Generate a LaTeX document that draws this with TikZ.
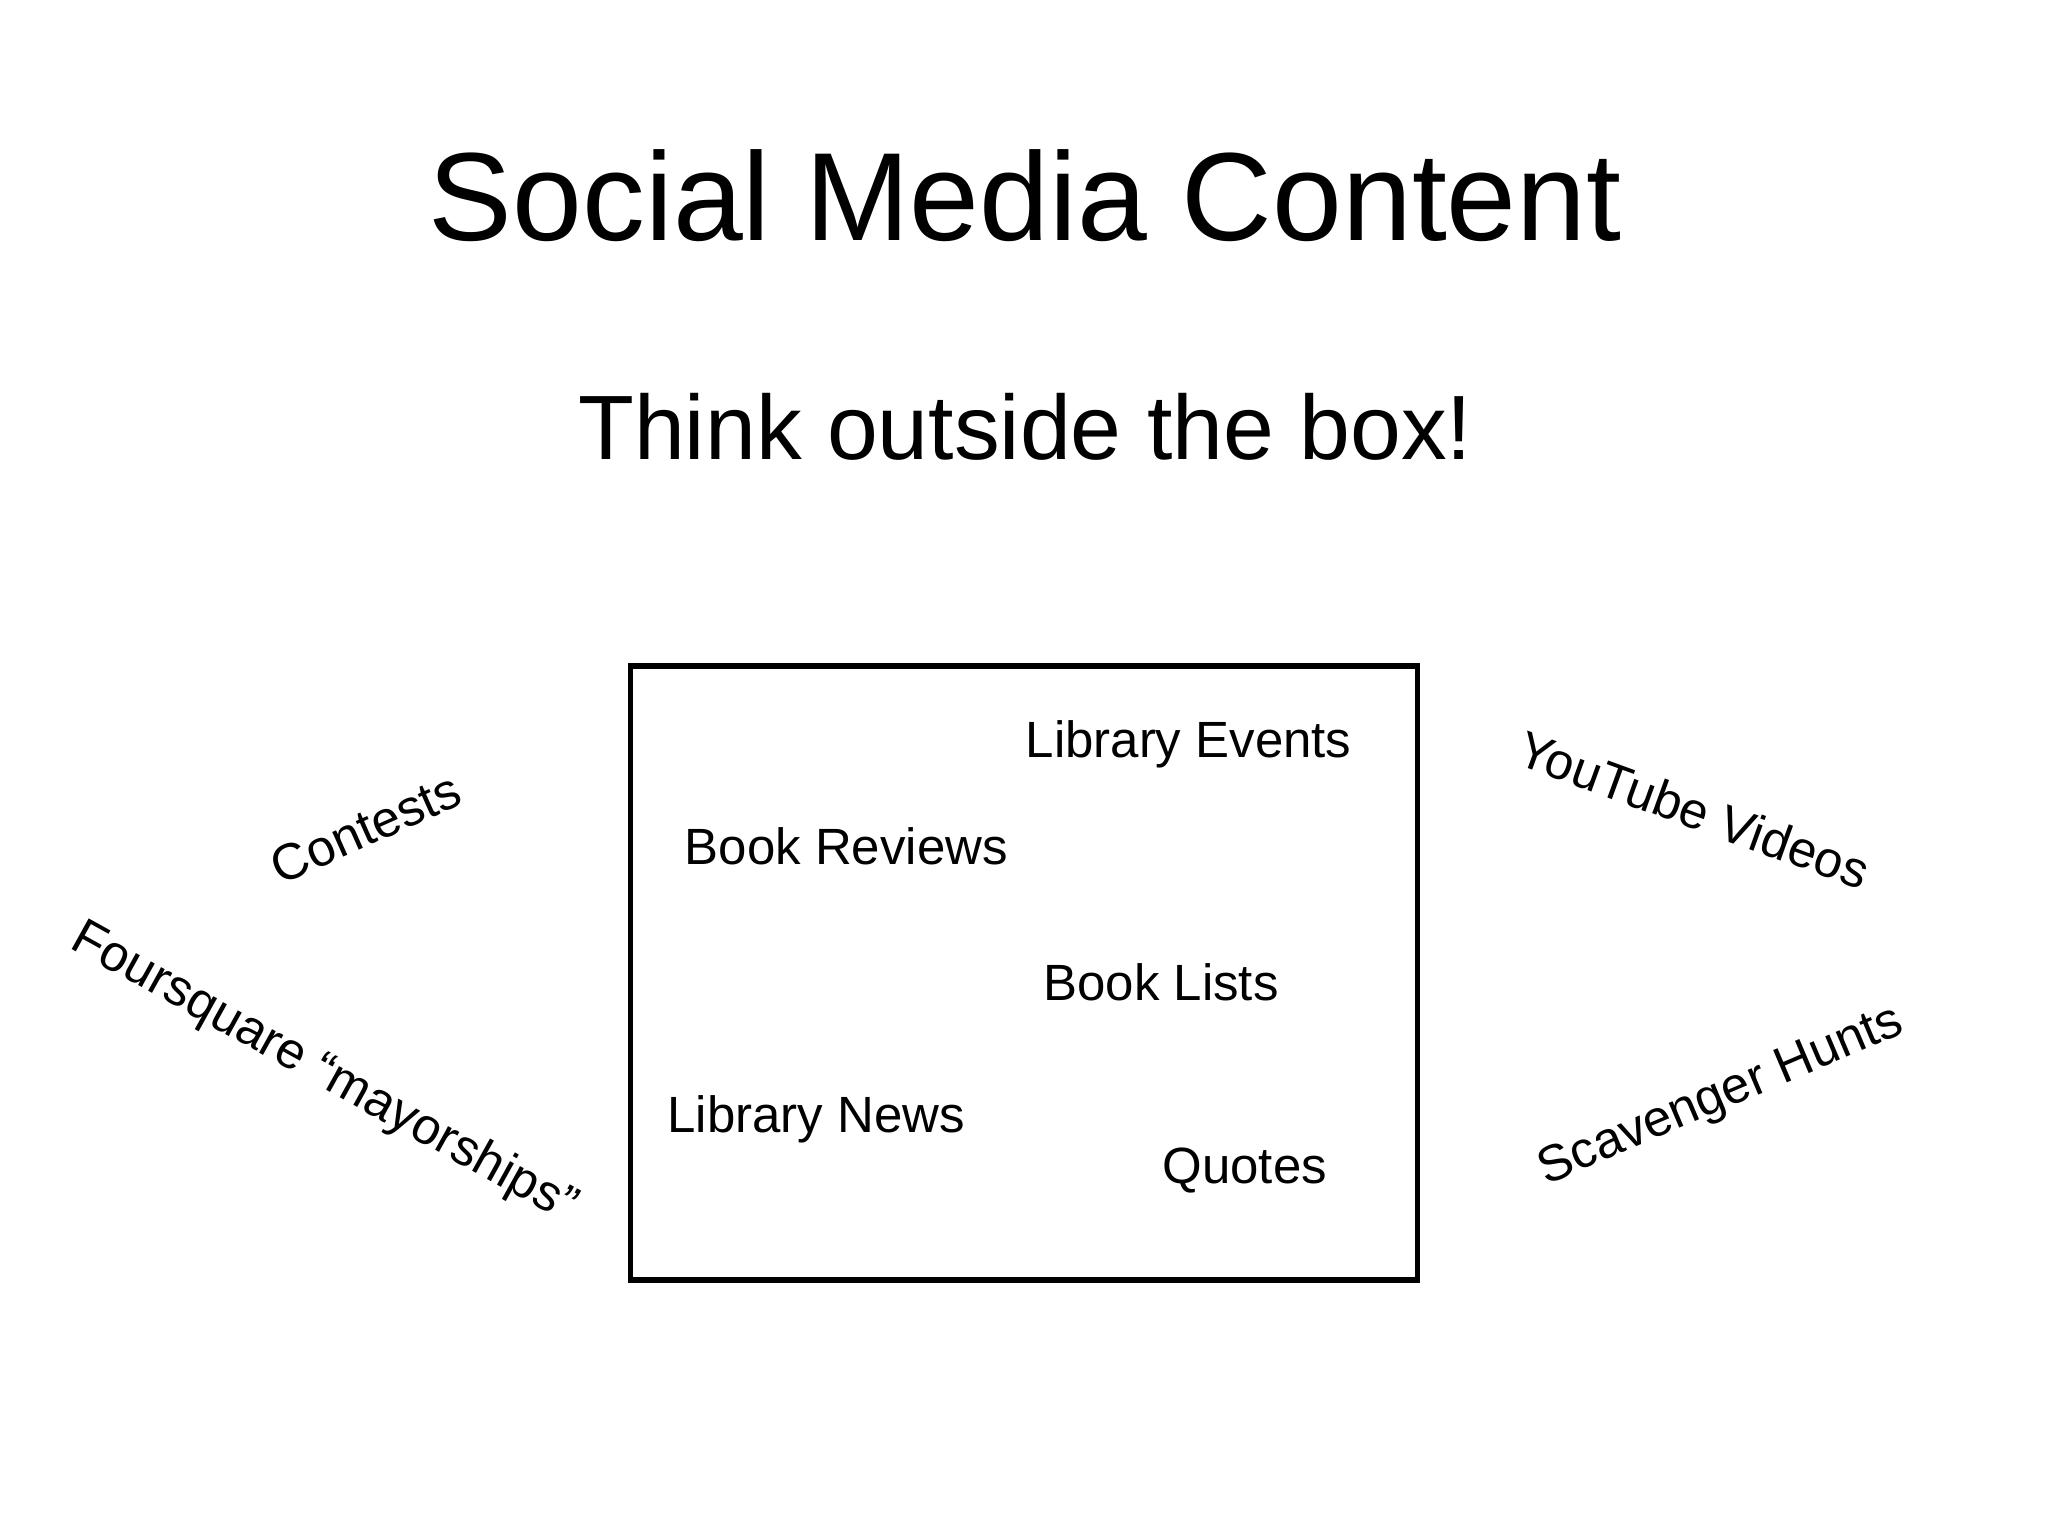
\documentclass[tikz,border=0pt]{standalone}
\usepackage{fontspec}
\setmainfont{Liberation Sans}
\begin{document}
\begin{tikzpicture}[x=0.01306cm,y=-0.01306cm,
  lbl/.style={inner sep=0pt,font=\fontsize{14.5}{17}\selectfont}]
\useasboundingbox (0,0) rectangle (1568,1176);
\node[inner sep=0pt,font=\fontsize{35.7}{42}\selectfont] (title) at (785,150) {Social Media Content};
\node[inner sep=0pt,font=\fontsize{26}{31}\selectfont] (sub) at (785,327) {Think outside the box!};
\draw[line width=1.5pt] (483,510) rectangle (1085,980);
\node[lbl] (le) at (910,570) {Library Events};
\node[lbl] (br) at (648,648) {Book Reviews};
\node[lbl] (bl) at (889,752) {Book Lists};
\node[lbl] (ln) at (625,857) {Library News};
\node[lbl] (q) at (953,896) {Quotes};
\node[lbl,rotate=24] (c) at (280,634) {Contests};
\node[lbl,rotate=-20] (yt) at (1297,620) {YouTube Videos};
\node[lbl,rotate=-29] (fs) at (248,822) {Foursquare “mayorships”};
\node[lbl,rotate=23] (sh) at (1318,840) {Scavenger Hunts};
\end{tikzpicture}
\end{document}
